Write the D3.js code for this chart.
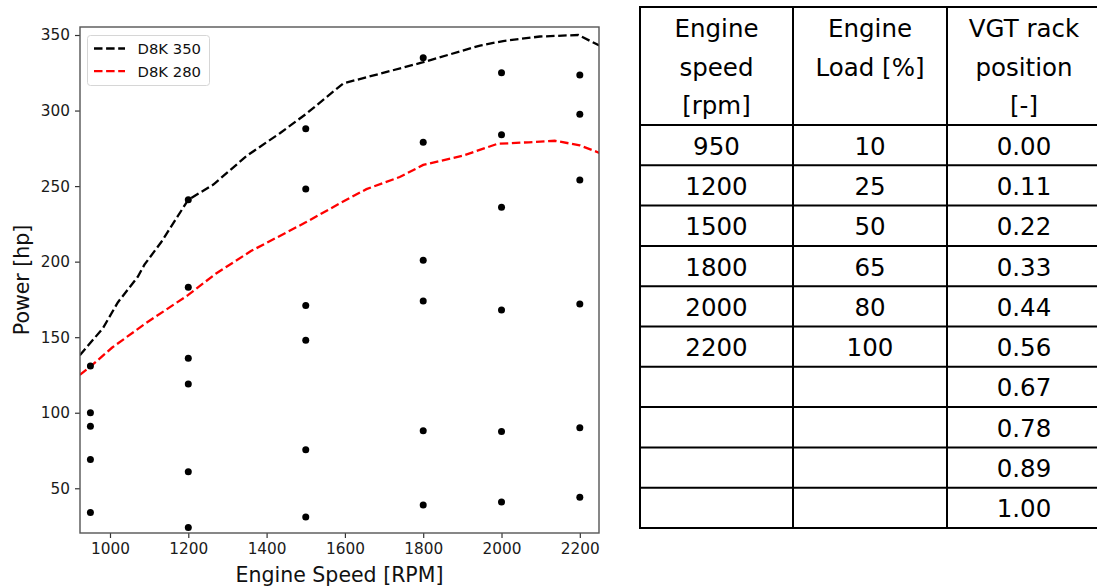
<!DOCTYPE html>
<html>
<head>
<meta charset="utf-8">
<script src="https://cdn.jsdelivr.net/npm/d3@7"></script>
<style>
  html, body { margin: 0; padding: 0; background: #fff; }
  svg { display: block; }
</style>
</head>
<body>
<svg id="fig" width="1097" height="588"></svg>
<script>
// Full-load power curves of the two engine ratings
const curve350Speed = [923, 982, 1020, 1071, 1088, 1131, 1200, 1264, 1349, 1434, 1502, 1596, 1655, 1800, 1945, 2004, 2098, 2196, 2250];
const curve350Power = [138, 156, 173, 190, 198, 213, 241, 251, 270, 285, 298, 318, 322, 332, 343, 346, 349, 350, 343];
const curve280Speed = [923, 952, 1005, 1090, 1200, 1270, 1360, 1500, 1590, 1655, 1740, 1800, 1900, 1990, 2070, 2136, 2200, 2250];
const curve280Power = [125, 131, 143, 159, 178, 192, 207, 226, 239, 248, 256, 264, 270, 278, 279, 280, 277, 272];

// Measured operating points
const opSpeed = [950, 950, 950, 950, 950,
                 1200, 1200, 1200, 1200, 1200, 1200,
                 1500, 1500, 1500, 1500, 1500, 1500,
                 1800, 1800, 1800, 1800, 1800, 1800,
                 2000, 2000, 2000, 2000, 2000, 2000,
                 2200, 2200, 2200, 2200, 2200, 2200];
const opPower = [131, 100, 91, 69, 34,
                 241, 183, 136, 119, 61, 24,
                 288, 248, 171, 148, 75.5, 31,
                 335, 279, 201, 174, 88, 39,
                 325, 284, 236, 168, 87.5, 41,
                 323.5, 297.5, 254, 172, 90, 44];

const xTicks = [1000, 1200, 1400, 1600, 1800, 2000, 2200];
const yTicks = [50, 100, 150, 200, 250, 300, 350];
const seriesNames = ["D8K 350", "D8K 280"];
const seriesColors = ["#000000", "#ff0000"];

// Test matrix table
const tableHeaders = [["Engine", "speed", "[rpm]"], ["Engine", "Load [%]"], ["VGT rack", "position", "[-]"]];
const speedColumn = ["950", "1200", "1500", "1800", "2000", "2200", "", "", "", ""];
const loadColumn = ["10", "25", "50", "65", "80", "100", "", "", "", ""];
const vgtColumn = ["0.00", "0.11", "0.22", "0.33", "0.44", "0.56", "0.67", "0.78", "0.89", "1.00"];

const svg = d3.select("#fig");
const font = "DejaVu Sans, sans-serif";

// ---------- plot ----------
const plot = { left: 80, top: 27, right: 599, bottom: 533 };
const x = d3.scaleLinear().domain([923.4, 2249]).range([plot.left, plot.right]);
const y = d3.scaleLinear().domain([20.4, 355.3]).range([plot.bottom, plot.top]);

svg.append("defs").append("clipPath").attr("id", "plotClip")
  .append("rect")
  .attr("x", plot.left).attr("y", plot.top)
  .attr("width", plot.right - plot.left).attr("height", plot.bottom - plot.top);

const line = d3.line().x(d => x(d[0])).y(d => y(d[1]));
const curves = [
  d3.zip(curve350Speed, curve350Power),
  d3.zip(curve280Speed, curve280Power)
];

const curveLayer = svg.append("g").attr("clip-path", "url(#plotClip)");
curves.forEach((pts, i) => {
  curveLayer.append("path")
    .datum(pts)
    .attr("d", line)
    .attr("fill", "none")
    .attr("stroke", seriesColors[i])
    .attr("stroke-width", 2.3)
    .attr("stroke-dasharray", "8.5,3.6");
});

curveLayer.selectAll("circle.op")
  .data(d3.zip(opSpeed, opPower))
  .join("circle")
  .attr("class", "op")
  .attr("cx", d => x(d[0]))
  .attr("cy", d => y(d[1]))
  .attr("r", 3.5)
  .attr("fill", "#000");

// axes
const xAxis = d3.axisBottom(x).tickValues(xTicks).tickSize(5).tickPadding(5).tickFormat(d3.format("d"));
const yAxis = d3.axisLeft(y).tickValues(yTicks).tickSize(5).tickPadding(5).tickFormat(d3.format("d"));

const gx = svg.append("g").attr("transform", `translate(0,${plot.bottom})`).call(xAxis);
const gy = svg.append("g").attr("transform", `translate(${plot.left},0)`).call(yAxis);
[gx, gy].forEach(g => {
  g.select(".domain").remove();
  g.selectAll(".tick line").attr("stroke", "#333").attr("stroke-width", 1.2);
  g.selectAll(".tick text").attr("font-family", font).attr("font-size", 15.3).attr("fill", "#1a1a1a");
});

// frame
svg.append("rect")
  .attr("x", plot.left).attr("y", plot.top)
  .attr("width", plot.right - plot.left).attr("height", plot.bottom - plot.top)
  .attr("fill", "none").attr("stroke", "#555").attr("stroke-width", 1.4);

// axis titles
svg.append("text")
  .attr("x", (plot.left + plot.right) / 2).attr("y", 582)
  .attr("text-anchor", "middle")
  .attr("font-family", font).attr("font-size", 20.5).attr("fill", "#111")
  .text("Engine Speed [RPM]");

svg.append("text")
  .attr("transform", `translate(29,${(plot.top + plot.bottom) / 2}) rotate(-90)`)
  .attr("text-anchor", "middle")
  .attr("font-family", font).attr("font-size", 20.5).attr("fill", "#111")
  .text("Power [hp]");

// legend
const legend = svg.append("g");
legend.append("rect")
  .attr("x", 87.5).attr("y", 35.5).attr("width", 122).attr("height", 50)
  .attr("rx", 3).attr("fill", "#fff").attr("fill-opacity", 0.8)
  .attr("stroke", "#d6d6d6").attr("stroke-width", 1);
seriesNames.forEach((name, i) => {
  const ly = 48.5 + i * 22.7;
  legend.append("line")
    .attr("x1", 94).attr("x2", 125).attr("y1", ly).attr("y2", ly)
    .attr("stroke", seriesColors[i]).attr("stroke-width", 2.3)
    .attr("stroke-dasharray", "8.5,3.6");
  legend.append("text")
    .attr("x", 137.5).attr("y", ly + 5.3)
    .attr("font-family", font).attr("font-size", 14.8).attr("fill", "#111")
    .text(name);
});

// ---------- table ----------
const tableFont = "DejaVu Sans, sans-serif";
const colEdges = [640, 793, 947, 1101];
const headerTop = 7, headerBottom = 125, rowH = 40.3;
const nRows = vgtColumn.length;
const rowEdges = d3.range(nRows + 1).map(i => headerBottom + i * rowH);
const tbl = svg.append("g");

// grid lines
tbl.selectAll("line.h")
  .data([headerTop].concat(rowEdges))
  .join("line")
  .attr("x1", colEdges[0] - 1).attr("x2", colEdges[3] + 1)
  .attr("y1", d => d).attr("y2", d => d)
  .attr("stroke", "#000").attr("stroke-width", 2);
tbl.selectAll("line.v")
  .data(colEdges)
  .join("line")
  .attr("x1", d => d).attr("x2", d => d)
  .attr("y1", headerTop).attr("y2", rowEdges[nRows])
  .attr("stroke", "#000").attr("stroke-width", 2);

const colCenters = d3.range(3).map(i => (colEdges[i] + colEdges[i + 1]) / 2);

// header cells
tableHeaders.forEach((lines, c) => {
  lines.forEach((t, k) => {
    tbl.append("text")
      .attr("x", colCenters[c]).attr("y", 37 + k * 38.5)
      .attr("text-anchor", "middle")
      .attr("font-family", tableFont).attr("font-size", 24.5).attr("fill", "#000")
      .text(t);
  });
});

// body cells
[speedColumn, loadColumn, vgtColumn].forEach((col, c) => {
  tbl.selectAll(null)
    .data(col)
    .join("text")
    .attr("x", colCenters[c])
    .attr("y", (d, i) => rowEdges[i] + rowH / 2 + 9.5)
    .attr("text-anchor", "middle")
    .attr("font-family", tableFont).attr("font-size", 24.5).attr("fill", "#000")
    .text(d => d);
});
</script>
</body>
</html>
